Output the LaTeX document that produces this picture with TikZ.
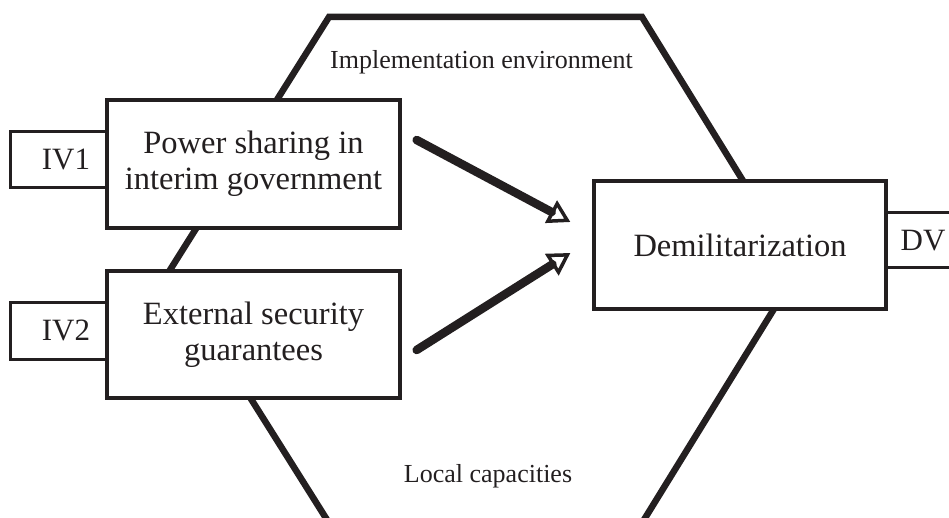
\documentclass[tikz,border=0pt]{standalone}
\usepackage{fontspec}
\setmainfont{Liberation Serif}
\usetikzlibrary{arrows.meta}
\definecolor{ink}{HTML}{231F20}
\begin{document}
\begin{tikzpicture}[x=1pt,y=-1pt,
  bigbox/.style={draw=ink, line width=3.3pt, fill=white, minimum width=293pt,
    minimum height=128pt, inner sep=0pt, align=center,
    font=\fontsize{32.5}{36}\selectfont, text=ink},
  tagbox/.style={draw=ink, line width=3pt, fill=white, inner sep=0pt,
    font=\fontsize{31}{34}\selectfont, text=ink},
  hexline/.style={draw=ink, line width=6.5pt, line join=miter},
  flow/.style={draw=ink, line width=8.5pt, line cap=round,
    -{Triangle[open, length=22pt, width=25pt, line width=3.5pt]}},
  envlabel/.style={font=\fontsize{26}{30}\selectfont, text=ink, anchor=base}
]
\useasboundingbox (0,0) rectangle (949,518);

% the surrounding hexagon (environment), cut at the lower edge
\begin{scope}
  \clip (0,0) rectangle (949,518);
  \draw[hexline] (329,17) -- (642,17) -- (798,270) -- (642,523)
                 -- (329,523) -- (170,270) -- cycle;
\end{scope}

% variable tags
\node[tagbox, minimum width=112pt, minimum height=56pt] (iv1) at (66,160) {IV1};
\node[tagbox, minimum width=112pt, minimum height=57pt] (iv2) at (66,330.5) {IV2};
\node[tagbox, minimum width=86pt, minimum height=55pt] (dv) at (923,240.5) {\raisebox{-5pt}{DV}};

% main boxes
\node[bigbox] (ps) at (253.5,164) {\raisebox{-3pt}{Power sharing in}\\\raisebox{-3pt}{interim government}};
\node[bigbox, minimum height=127pt] (esg) at (253.5,334.5) {\raisebox{-3pt}{External security}\\\raisebox{-3pt}{guarantees}};
\node[bigbox, minimum width=292pt] (demil) at (740,245) {Demilitarization};

% causal arrows
\draw[flow] ([shift={(15,-24)}]ps.east) -- ([shift={(-22,-23)}]demil.west);
\draw[flow] ([shift={(15,15.5)}]esg.east) -- ([shift={(-22,8)}]demil.west);

% environment labels
\node[envlabel] (env) at (481.5,69) {Implementation environment};
\node[envlabel] (loc) at (488,482) {Local capacities};
\end{tikzpicture}
\end{document}
